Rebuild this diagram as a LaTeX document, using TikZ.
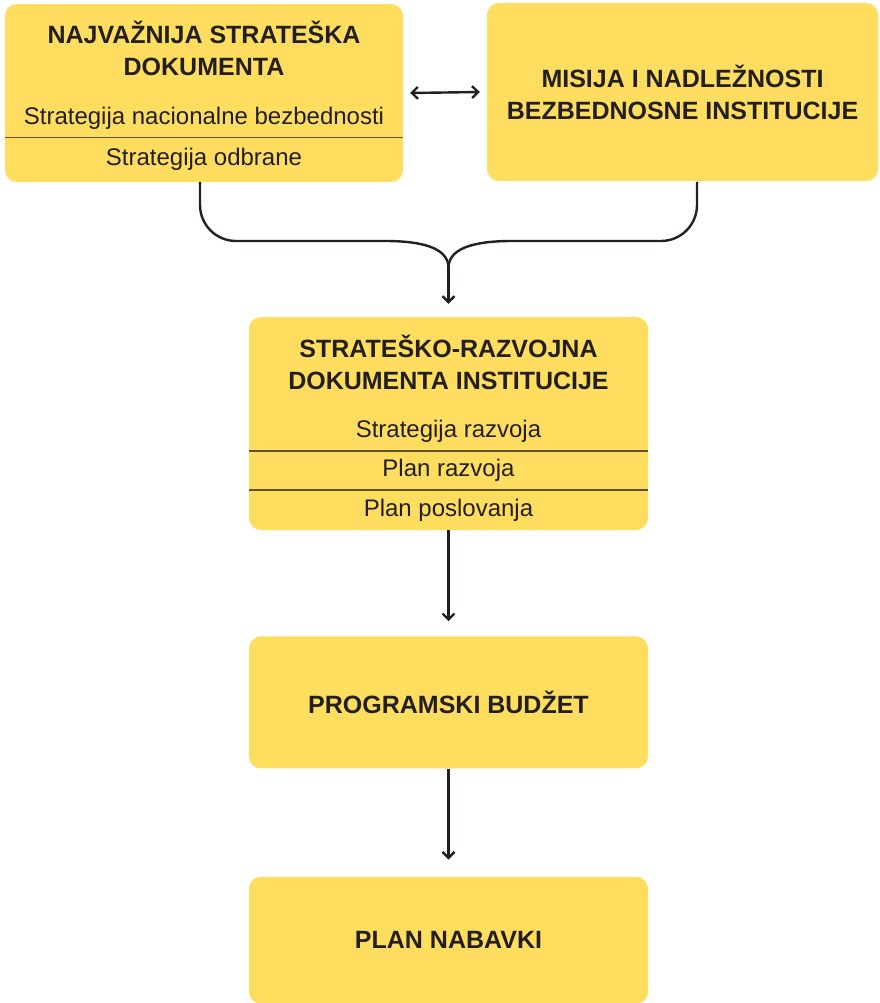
\documentclass[tikz,border=0pt]{standalone}
\usepackage{fontspec}
\setmainfont{Liberation Sans}
\usetikzlibrary{arrows.meta,positioning}
\definecolor{boxyellow}{HTML}{FFDD5F}
\definecolor{inkdark}{HTML}{231F20}
\definecolor{ruleolive}{HTML}{5E5233}
\tikzset{
  block/.style={rectangle,rounded corners=12pt,fill=boxyellow,draw=none,inner sep=0pt},
  heading/.style={font=\bfseries\fontsize{25}{32}\selectfont,text=inkdark,align=center},
  item/.style={font=\fontsize{24}{28}\selectfont,text=inkdark,inner sep=0pt},
  link/.style={line width=2.4pt,draw=inkdark},
  flow/.style={link,-{Straight Barb[length=6pt,width=12pt]}},
  divider/.style={draw=ruleolive,line width=1.4pt}
}
\begin{document}
\begin{tikzpicture}[x=1pt,y=-1pt]
  \useasboundingbox (0,0) rectangle (879,1003);
  % top row
  \node[block,minimum width=398pt,minimum height=178pt] (docs) at (204,93) {};
  \node[heading] (docstitle) at (204,48) {NAJVAŽNIJA STRATEŠKA\\DOKUMENTA};
  \node[item] (nsb) at (204,118) {Strategija nacionalne bezbednosti};
  \node[item] (odbrana) at (204,159) {Strategija odbrane};
  \coordinate (cutA) at (204,137.5);
  \draw[divider] (cutA -| docs.west) -- (cutA -| docs.east);

  \node[block,heading,minimum width=391pt,minimum height=178pt] (mission) at (682.5,92)
    {MISIJA I NADLEŽNOSTI\\BEZBEDNOSNE INSTITUCIJE};
  \draw[link,{Straight Barb[length=6pt,width=12pt]}-{Straight Barb[length=6pt,width=12pt]}]
    ([xshift=7pt]docs.east) -- ([xshift=-7pt]mission.west);

  % institution documents
  \node[block,minimum width=399pt,minimum height=213pt] (strat) at (448.5,423.5) {};
  \node[heading] (strattitle) at (448.5,362) {STRATEŠKO-RAZVOJNA\\DOKUMENTA INSTITUCIJE};
  \node[item] (razvoj) at (448.5,431) {Strategija razvoja};
  \node[item] (planr) at (448.5,470) {Plan razvoja};
  \node[item] (planp) at (448.5,510) {Plan poslovanja};
  \coordinate (cutB) at (448.5,451);
  \coordinate (cutC) at (448.5,490);
  \draw[divider] (cutB -| strat.west) -- (cutB -| strat.east);
  \draw[divider] (cutC -| strat.west) -- (cutC -| strat.east);

  % joining brace
  \coordinate (lfoot) at (200,182);
  \coordinate (rfoot) at (697,182);
  \coordinate (merge) at (448.5,268);
  \draw[link] (lfoot) [rounded corners=36pt]-- (200,241) [sharp corners]-- (385,241)
    .. controls (432,241) and (448.5,252) .. (merge);
  \draw[link] (rfoot) [rounded corners=36pt]-- (697,241) [sharp corners]-- (512,241)
    .. controls (465,241) and (448.5,252) .. (merge);
  \draw[flow,shorten >=13pt] (merge) -- (strat.north);

  % lower column
  \node[block,heading,minimum width=399pt,minimum height=132pt] (budget) [below=106pt of strat]
    {PROGRAMSKI BUDŽET};
  \node[block,heading,minimum width=399pt,minimum height=127pt] (nabavke) [below=108pt of budget]
    {PLAN NABAVKI};
  \draw[flow,shorten >=15pt] (strat) -- (budget);
  \draw[flow,shorten >=17pt] (budget) -- (nabavke);
\end{tikzpicture}
\end{document}
